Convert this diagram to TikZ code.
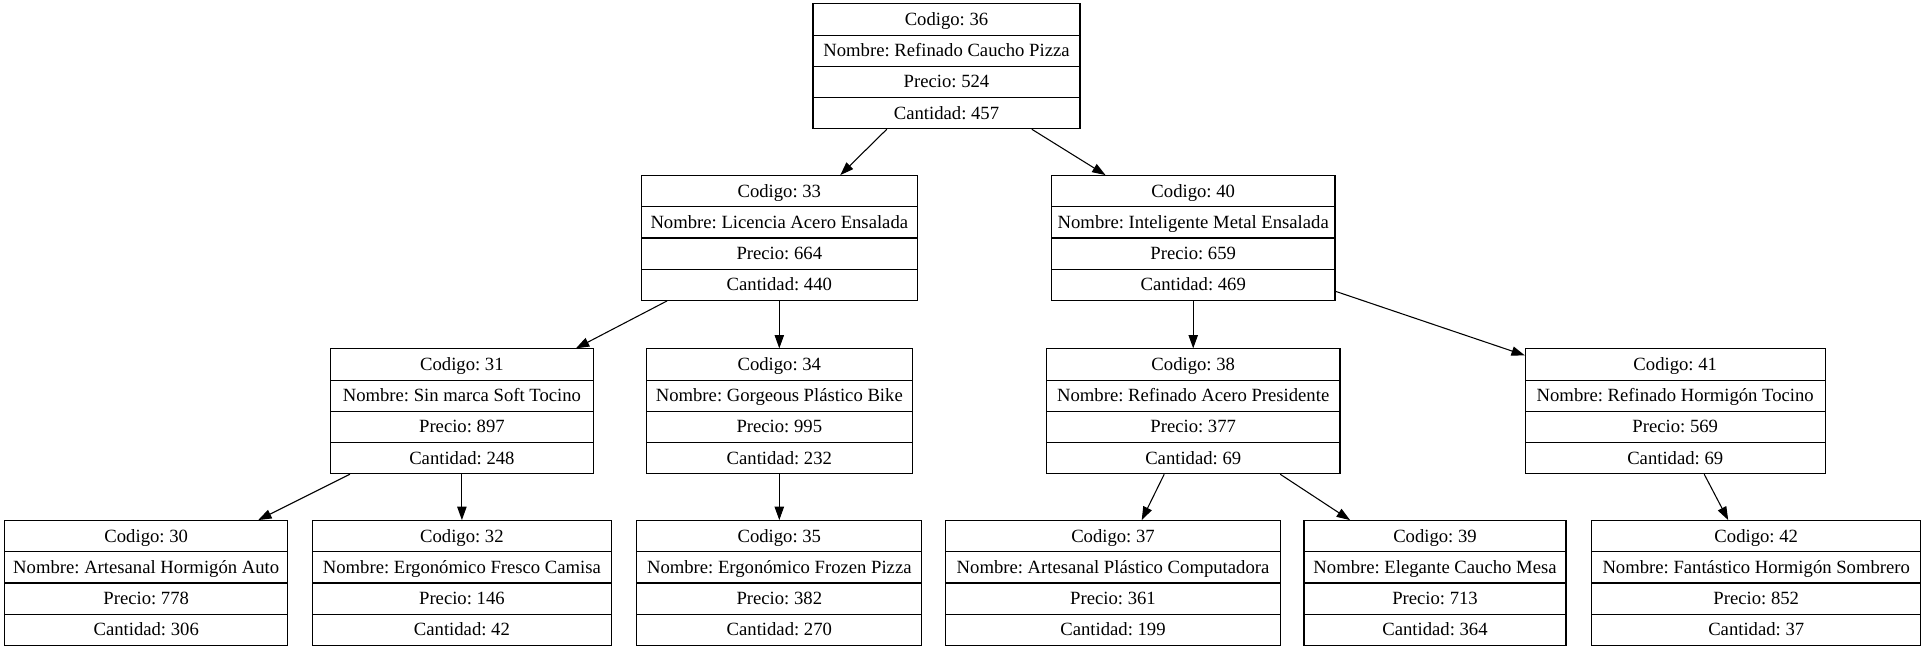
\documentclass[tikz,border=0pt]{standalone}
\usepackage{fontspec}
\setmainfont{Liberation Serif}
\usetikzlibrary{arrows.meta, calc, shapes.multipart}
\frenchspacing
\newcommand{\fila}[1]{\rule[-6.8pt]{0pt}{22.6pt}#1}

\begin{document}
\begin{tikzpicture}[x=0.75pt, y=-0.75pt,
  rec/.style={draw, rectangle split, rectangle split parts=4, inner xsep=0pt, inner ysep=0pt,
    minimum width=#1*0.75pt, line width=0.8pt, font=\fontsize{14}{16}\selectfont},
  edge/.style={-{Triangle[length=10pt, width=7pt]}, line width=0.8pt}]
  \useasboundingbox (0,0) rectangle (1926,651);
  \node[rec=267] (n36) at (946.5,66.3) {\fila{Codigo: 36}\nodepart{two}\fila{Nombre: Refinado Caucho Pizza}\nodepart{three}\fila{Precio: 524}\nodepart{four}\fila{Cantidad: 457}};
  \node[rec=276.5] (n33) at (779.3,238) {\fila{Codigo: 33}\nodepart{two}\fila{Nombre: Licencia Acero Ensalada}\nodepart{three}\fila{Precio: 664}\nodepart{four}\fila{Cantidad: 440}};
  \node[rec=283.6] (n40) at (1193.2,238) {\fila{Codigo: 40}\nodepart{two}\fila{Nombre: Inteligente Metal Ensalada}\nodepart{three}\fila{Precio: 659}\nodepart{four}\fila{Cantidad: 469}};
  \node[rec=263] (n31) at (461.9,411.3) {\fila{Codigo: 31}\nodepart{two}\fila{Nombre: Sin marca Soft Tocino}\nodepart{three}\fila{Precio: 897}\nodepart{four}\fila{Cantidad: 248}};
  \node[rec=266.5] (n34) at (779.3,411.3) {\fila{Codigo: 34}\nodepart{two}\fila{Nombre: Gorgeous Plástico Bike}\nodepart{three}\fila{Precio: 995}\nodepart{four}\fila{Cantidad: 232}};
  \node[rec=293.5] (n38) at (1193.2,411.3) {\fila{Codigo: 38}\nodepart{two}\fila{Nombre: Refinado Acero Presidente}\nodepart{three}\fila{Precio: 377}\nodepart{four}\fila{Cantidad: 69}};
  \node[rec=299.7] (n41) at (1675.2,411.3) {\fila{Codigo: 41}\nodepart{two}\fila{Nombre: Refinado Hormigón Tocino}\nodepart{three}\fila{Precio: 569}\nodepart{four}\fila{Cantidad: 69}};
  \node[rec=282.5] (n30) at (146.2,583) {\fila{Codigo: 30}\nodepart{two}\fila{Nombre: Artesanal Hormigón Auto}\nodepart{three}\fila{Precio: 778}\nodepart{four}\fila{Cantidad: 306}};
  \node[rec=299.7] (n32) at (461.9,583) {\fila{Codigo: 32}\nodepart{two}\fila{Nombre: Ergonómico Fresco Camisa}\nodepart{three}\fila{Precio: 146}\nodepart{four}\fila{Cantidad: 42}};
  \node[rec=285] (n35) at (779.3,583) {\fila{Codigo: 35}\nodepart{two}\fila{Nombre: Ergonómico Frozen Pizza}\nodepart{three}\fila{Precio: 382}\nodepart{four}\fila{Cantidad: 270}};
  \node[rec=334.5] (n37) at (1113,583) {\fila{Codigo: 37}\nodepart{two}\fila{Nombre: Artesanal Plástico Computadora}\nodepart{three}\fila{Precio: 361}\nodepart{four}\fila{Cantidad: 199}};
  \node[rec=262] (n39) at (1435,583) {\fila{Codigo: 39}\nodepart{two}\fila{Nombre: Elegante Caucho Mesa}\nodepart{three}\fila{Precio: 713}\nodepart{four}\fila{Cantidad: 364}};
  \node[rec=329] (n42) at (1756.2,583) {\fila{Codigo: 42}\nodepart{two}\fila{Nombre: Fantástico Hormigón Sombrero}\nodepart{three}\fila{Precio: 852}\nodepart{four}\fila{Cantidad: 37}};
  \draw[edge] ($(n36.south)+(-59.7,0)$) -- ($(n33.north)+(61,0)$);
  \draw[edge] ($(n36.south)+(85.3,0)$) -- ($(n40.north)+(-87.7,0)$);
  \draw[edge] ($(n33.south)+(-112.3,0)$) -- ($(n31.north)+(114,0)$);
  \draw[edge] (n33.south) -- (n34.north);
  \draw[edge] (n40.south) -- (n38.north);
  \draw[edge] ($(n40.south east)+(0,-9.6)$) -- ($(n41.north west)+(0,7)$);
  \draw[edge] ($(n31.south)+(-112,0)$) -- ($(n30.north)+(112,0)$);
  \draw[edge] (n31.south) -- (n32.north);
  \draw[edge] (n34.south) -- (n35.north);
  \draw[edge] ($(n38.south)+(-29,0)$) -- ($(n37.north)+(28.7,0)$);
  \draw[edge] ($(n38.south)+(87,0)$) -- ($(n39.north)+(-85,0)$);
  \draw[edge] ($(n41.south)+(29,0)$) -- ($(n42.north)+(-28,0)$);
\end{tikzpicture}
\end{document}
